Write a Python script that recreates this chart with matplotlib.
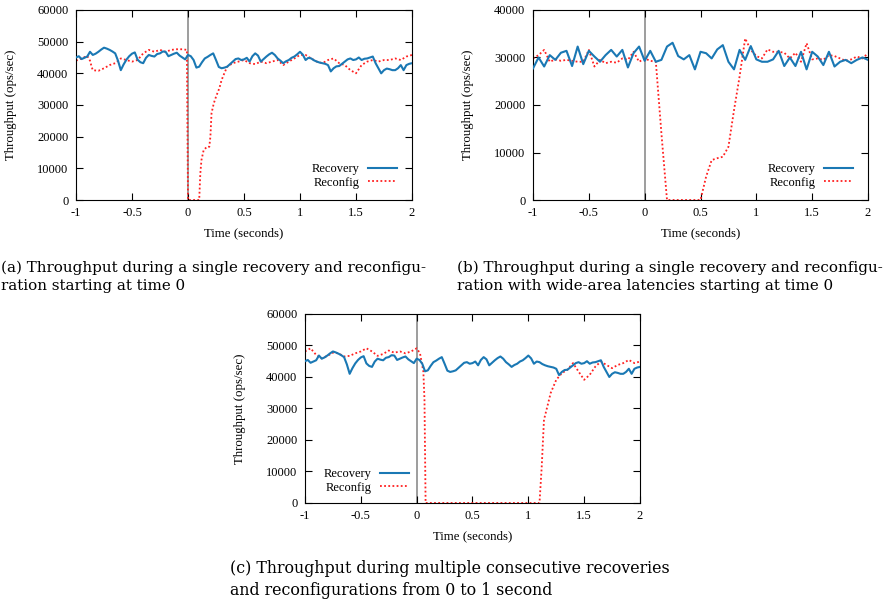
import numpy as np
import matplotlib
matplotlib.use("Agg")
from matplotlib import pyplot as plt

plt.rcParams["font.family"] = ["Liberation Serif", "DejaVu Serif"]

# ---- data (throughput in ops/sec) ----
rec_t = np.linspace(-1.0, 2.0, 121)
rec_v = [
    45.0, 45.4, 44.5, 44.9, 45.3, 46.8, 45.8, 46.2, 46.8, 47.5,
    48.1, 47.8, 47.4, 46.9, 46.3, 44.0, 41.0, 42.8, 44.3, 45.4,
    46.2, 46.6, 44.3, 43.5, 43.2, 44.9, 45.8, 45.5, 45.3, 46.1,
    46.3, 46.9, 46.8, 45.4, 45.8, 46.2, 46.5, 45.6, 45.0, 44.4,
    45.8, 45.4, 44.2, 41.8, 42.1, 43.5, 44.7, 45.2, 45.8, 46.3,
    44.2, 42.0, 41.6, 41.8, 42.1, 42.9, 43.7, 44.5, 44.7, 44.2,
    44.4, 44.9, 43.7, 45.4, 46.3, 45.6, 43.7, 44.5, 45.3, 46.0,
    46.5, 45.8, 44.7, 44.0, 43.2, 43.8, 44.2, 44.9, 45.3, 46.0,
    46.8, 45.9, 44.2, 44.9, 44.7, 44.1, 43.7, 43.4, 43.2, 43.0,
    42.6, 40.6, 41.6, 42.2, 42.3, 43.0, 43.7, 44.4, 44.7, 44.2,
    44.4, 45.0, 44.2, 44.6, 44.7, 45.0, 45.3, 43.2, 41.6, 40.0,
    41.0, 41.5, 41.3, 41.0, 41.0, 41.6, 42.6, 41.0, 42.6, 43.0,
    43.2,
]
rec_v = [v * 1000 for v in rec_v]

cfg_a_t = [-1.0, -0.95, -0.9, -0.875, -0.86, -0.85, -0.8, -0.75, -0.7, -0.65,
           -0.6, -0.55, -0.5, -0.45, -0.4, -0.35, -0.3, -0.25, -0.2, -0.15,
           -0.1, -0.05, -0.01, 0.0, 0.1, 0.11, 0.12, 0.14, 0.17, 0.19,
           0.2, 0.21, 0.23, 0.25, 0.28, 0.3, 0.33, 0.35, 0.4, 0.45,
           0.5, 0.55, 0.6, 0.65, 0.7, 0.75, 0.8, 0.85, 0.9, 0.95,
           1.0, 1.05, 1.1, 1.15, 1.2, 1.25, 1.3, 1.35, 1.4, 1.45,
           1.5, 1.55, 1.6, 1.65, 1.7, 1.75, 1.8, 1.85, 1.9, 1.95, 2.0]
cfg_a_v = [44.0, 44.7, 45.5, 44.0, 42.0, 41.0, 40.8, 41.6, 42.6, 43.2,
           44.7, 44.2, 43.7, 44.2, 46.3, 47.4, 46.8, 47.4, 46.8, 47.4,
           47.6, 47.6, 47.4, 0.0, 0.0, 8.4, 12.6, 15.8, 16.8, 16.8,
           20.0, 27.4, 30.5, 32.6, 35.3, 37.9, 40.5, 42.1, 43.2, 43.7,
           44.2, 43.2, 42.9, 43.7, 43.2, 43.7, 44.2, 42.6, 43.7, 44.7,
           45.8, 45.8, 44.7, 43.7, 43.2, 44.2, 44.7, 43.2, 42.6, 41.0,
           40.0, 42.6, 43.7, 44.2, 43.7, 44.2, 44.2, 44.7, 44.2, 45.3, 45.8]
cfg_a_v = [v * 1000 for v in cfg_a_v]

wan_t = np.linspace(-1.0, 2.0, 61)
wan_rec_v = [
    27.7, 30.0, 28.1, 30.5, 29.5, 31.0, 31.4, 28.2, 32.3, 28.6,
    31.4, 30.2, 29.1, 30.5, 31.6, 30.2, 31.6, 27.9, 30.9, 32.3,
    29.3, 31.4, 29.1, 29.5, 32.3, 33.1, 30.3, 29.6, 30.5, 27.5,
    31.2, 30.9, 29.8, 31.7, 32.6, 29.1, 27.5, 31.6, 29.5, 32.4,
    29.6, 29.1, 29.1, 29.6, 31.4, 28.2, 30.0, 28.2, 31.2, 27.5,
    31.2, 30.2, 28.4, 31.2, 28.1, 29.1, 29.5, 28.8, 29.5, 30.0,
    29.5,
]
wan_rec_v = [v * 1000 for v in wan_rec_v]
wan_cfg_v = [
    29.8, 30.5, 31.6, 29.1, 29.6, 29.3, 29.5, 29.3, 29.1, 29.1,
    31.6, 28.1, 29.5, 28.8, 29.1, 28.9, 29.8, 29.5, 31.2, 29.1,
    29.8, 29.3, 29.1, 14.0, 0.0, 0.0, 0.0, 0.0, 0.0, 0.0,
    0.0, 4.9, 8.4, 8.8, 9.1, 11.2, 18.9, 26.0, 34.0, 31.6,
    30.3, 29.8, 31.7, 31.2, 31.2, 31.0, 29.8, 31.0, 29.1, 33.0,
    29.6, 29.8, 29.5, 30.5, 30.3, 29.8, 29.3, 29.6, 30.2, 29.8,
    30.9,
]
wan_cfg_v = [v * 1000 for v in wan_cfg_v]

cfg_c_t = [-1.0, -0.95, -0.9, -0.85, -0.8, -0.75, -0.7, -0.65, -0.6, -0.55,
           -0.5, -0.45, -0.4, -0.35, -0.3, -0.25, -0.2, -0.15, -0.1, -0.05,
           0.0, 0.03, 0.06, 0.07, 0.08, 1.1, 1.12, 1.14, 1.17, 1.2,
           1.25, 1.3, 1.35, 1.4, 1.45, 1.5, 1.55, 1.6, 1.65, 1.7,
           1.75, 1.8, 1.85, 1.9, 1.95, 2.0]
cfg_c_v = [48.1, 49.1, 47.0, 45.9, 46.7, 47.7, 47.5, 46.5, 46.7, 47.5,
           48.1, 49.1, 48.1, 46.7, 47.3, 48.4, 47.7, 48.1, 47.5, 48.1,
           49.1, 47.5, 41.7, 32.7, 0.0, 0.0, 11.6, 26.4, 30.6, 34.9,
           39.1, 41.2, 42.3, 44.4, 41.7, 39.1, 40.7, 43.3, 44.9, 43.8,
           42.8, 43.8, 44.4, 45.4, 44.4, 44.9]
cfg_c_v = [v * 1000 for v in cfg_c_v]

blue = "#1a78b4"
red = "#ff2020"
tick_fs = 9.0
lab_fs = 9.3
leg_fs = 9.0


def panel(ax, t1, v1, t2, v2, ymax, ystep, leg_anchor):
    ax.axvline(0, color="#8c8c8c", lw=1.2, zorder=1)
    ax.plot(t1, v1, color=blue, lw=1.5, label="Recovery", zorder=3)
    ax.plot(t2, v2, color=red, lw=1.3, linestyle=(0, (1, 1.3)), label="Reconfig", zorder=2)
    ax.set_xlim(-1, 2)
    ax.set_ylim(0, ymax)
    ax.set_xticks([-1, -0.5, 0, 0.5, 1, 1.5, 2])
    ax.set_xticklabels(["-1", "-0.5", "0", "0.5", "1", "1.5", "2"])
    ax.set_yticks(np.arange(0, ymax + 1, ystep))
    ax.tick_params(direction="in", top=True, right=True, length=5, labelsize=tick_fs)
    ax.tick_params(axis="x", pad=5)
    ax.tick_params(axis="y", pad=5.5)
    ax.set_xlabel("Time (seconds)", fontsize=lab_fs)
    ax.set_ylabel("Throughput (ops/sec)", fontsize=lab_fs)
    ax.xaxis.set_label_coords(0.5, -0.142)
    ax.yaxis.set_label_coords(-0.175, 0.5)
    ax.legend(loc="lower right", bbox_to_anchor=leg_anchor, frameon=False,
              markerfirst=False, fontsize=leg_fs, handlelength=2.3,
              handletextpad=0.7, labelspacing=0.1, borderaxespad=0.0,
              borderpad=0.0)
    for s in ax.spines.values():
        s.set_linewidth(0.8)


fig = plt.figure(figsize=(8.91, 6.01), dpi=100)

ax_a = fig.add_axes([0.0853, 0.6672, 0.3771, 0.3162])
panel(ax_a, rec_t, rec_v, cfg_a_t, cfg_a_v, 60000, 10000, (0.955, 0.06))

ax_b = fig.add_axes([0.5982, 0.6672, 0.3760, 0.3162])
panel(ax_b, wan_t, wan_rec_v, wan_t, wan_cfg_v, 40000, 10000, (0.955, 0.06))

ax_c = fig.add_axes([0.3423, 0.1631, 0.3760, 0.3145])
panel(ax_c, rec_t, rec_v, cfg_c_t, cfg_c_v, 60000, 10000, (0.31, 0.05))

cap = dict(va="center", ha="left", linespacing=1.35, family="DejaVu Serif")
fig.text(0.001, 1 - 276.5 / 601,
         "(a) Throughput during a single recovery and reconfigu-\nration starting at time 0",
         fontsize=10.9, **cap)
fig.text(457 / 891, 1 - 276.5 / 601,
         "(b) Throughput during a single recovery and reconfigu-\nration with wide-area latencies starting at time 0",
         fontsize=10.9, **cap)
fig.text(230 / 891, 1 - 579.5 / 601,
         "(c) Throughput during multiple consecutive recoveries\nand reconfigurations from 0 to 1 second",
         fontsize=11.4, **cap)

fig.savefig("out.png", dpi=100)
